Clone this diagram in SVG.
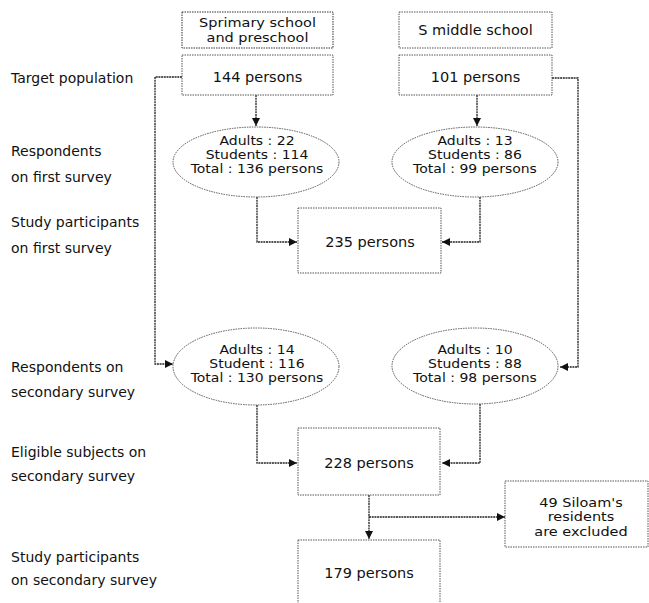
<svg xmlns="http://www.w3.org/2000/svg" width="649" height="603" viewBox="0 0 649 603">
<style>
.bg{fill:#fff}
.box{fill:#fff;stroke:#555;stroke-width:1;stroke-dasharray:1.5 1}
.ell{fill:#fff;stroke:#555;stroke-width:1;stroke-dasharray:1.5 1}
.con{fill:none;stroke:#222;stroke-width:1.3;stroke-dasharray:2 0.7}
text{font-family:"DejaVu Sans","Liberation Sans",sans-serif;fill:#111}
.lab{font-size:14px}
.n{font-size:14.5px;text-anchor:middle}
.e{font-size:12.5px;text-anchor:middle}
</style>
<defs>
<marker id="arr" viewBox="0 0 10 10" refX="10" refY="5" markerWidth="8" markerHeight="8" markerUnits="userSpaceOnUse" orient="auto">
<path d="M0,0 L10,5 L0,10 Z" fill="#111"/>
</marker>
</defs>
<rect class="bg" x="0" y="0" width="649" height="603"/>

<g id="labels">
<text class="lab" x="11" y="83">Target population</text>
<text class="lab" x="11" y="156">Respondents</text>
<text class="lab" x="11" y="182">on first survey</text>
<text class="lab" x="11" y="227">Study participants</text>
<text class="lab" x="11" y="253">on first survey</text>
<text class="lab" x="11" y="372">Respondents on</text>
<text class="lab" x="11" y="397">secondary survey</text>
<text class="lab" x="11" y="457">Eligible subjects on</text>
<text class="lab" x="11" y="481">secondary survey</text>
<text class="lab" x="11" y="562">Study participants</text>
<text class="lab" x="11" y="585">on secondary survey</text>
</g>

<g id="connectors">
<line class="con" x1="256" y1="95" x2="256" y2="126" marker-end="url(#arr)"/>
<line class="con" x1="477" y1="95" x2="477" y2="126" marker-end="url(#arr)"/>
<polyline class="con" points="182,77 155,77 155,364 173,364" marker-end="url(#arr)"/>
<polyline class="con" points="552,78 578,78 578,367 560,367" marker-end="url(#arr)"/>
<polyline class="con" points="257,197 257,242 297,242" marker-end="url(#arr)"/>
<polyline class="con" points="480,197 480,242 442,242" marker-end="url(#arr)"/>
<polyline class="con" points="257,405 257,463 297,463" marker-end="url(#arr)"/>
<polyline class="con" points="480,404 480,463 442,463" marker-end="url(#arr)"/>
<line class="con" x1="369" y1="495" x2="369" y2="539" marker-end="url(#arr)"/>
<line class="con" x1="369" y1="517" x2="505" y2="517" marker-end="url(#arr)"/>
</g>

<g id="header1">
<rect class="box" x="182" y="12" width="151" height="36" style="stroke:#333"/>
<g transform="translate(257.5,0) scale(1.16,1)">
<text class="e" x="0" y="27.5">Sprimary school</text>
<text class="e" x="0" y="42">and preschool</text>
</g>
</g>
<g id="header2">
<rect class="box" x="399" y="12" width="153" height="36"/>
<text class="n" x="475.5" y="35">S middle school</text>
</g>
<g id="target1">
<rect class="box" x="182" y="55" width="151" height="40"/>
<text class="n" x="257.5" y="82">144 persons</text>
</g>
<g id="target2">
<rect class="box" x="399" y="55" width="153" height="40"/>
<text class="n" x="475.5" y="82">101 persons</text>
</g>
<g id="resp1">
<ellipse class="ell" cx="256" cy="162" rx="83" ry="35"/>
<g transform="translate(257,0) scale(1.12,1)">
<text class="e" x="0" y="145.5">Adults : 22</text>
<text class="e" x="0" y="159.5">Students : 114</text>
<text class="e" x="0" y="173.5">Total : 136 persons</text>
</g>
</g>
<g id="resp2">
<ellipse class="ell" cx="475" cy="162" rx="83" ry="35"/>
<g transform="translate(475,0) scale(1.12,1)">
<text class="e" x="0" y="145.5">Adults : 13</text>
<text class="e" x="0" y="159.5">Students : 86</text>
<text class="e" x="0" y="173.5">Total : 99 persons</text>
</g>
</g>
<g id="first">
<rect class="box" x="298" y="208" width="143" height="65"/>
<text class="n" x="370" y="247">235 persons</text>
</g>
<g id="resp3">
<ellipse class="ell" cx="256" cy="366.5" rx="83" ry="38.5"/>
<g transform="translate(257,0) scale(1.12,1)">
<text class="e" x="0" y="354">Adults : 14</text>
<text class="e" x="0" y="368">Student : 116</text>
<text class="e" x="0" y="382">Total : 130 persons</text>
</g>
</g>
<g id="resp4">
<ellipse class="ell" cx="475" cy="366" rx="83" ry="38"/>
<g transform="translate(475,0) scale(1.12,1)">
<text class="e" x="0" y="354">Adults : 10</text>
<text class="e" x="0" y="368">Students : 88</text>
<text class="e" x="0" y="382">Total : 98 persons</text>
</g>
</g>
<g id="eligible">
<rect class="box" x="298" y="428" width="142" height="67"/>
<text class="n" x="369" y="468">228 persons</text>
</g>
<g id="excluded">
<rect class="box" x="505" y="481" width="143" height="66"/>
<g transform="translate(581,0) scale(1.16,1)">
<text class="e" x="0" y="507">49 Siloam's</text>
<text class="e" x="0" y="521.5">residents</text>
<text class="e" x="0" y="536">are excluded</text>
</g>
</g>
<g id="final">
<rect class="box" x="298" y="540" width="142" height="70"/>
<text class="n" x="369" y="578">179 persons</text>
</g>
</svg>
